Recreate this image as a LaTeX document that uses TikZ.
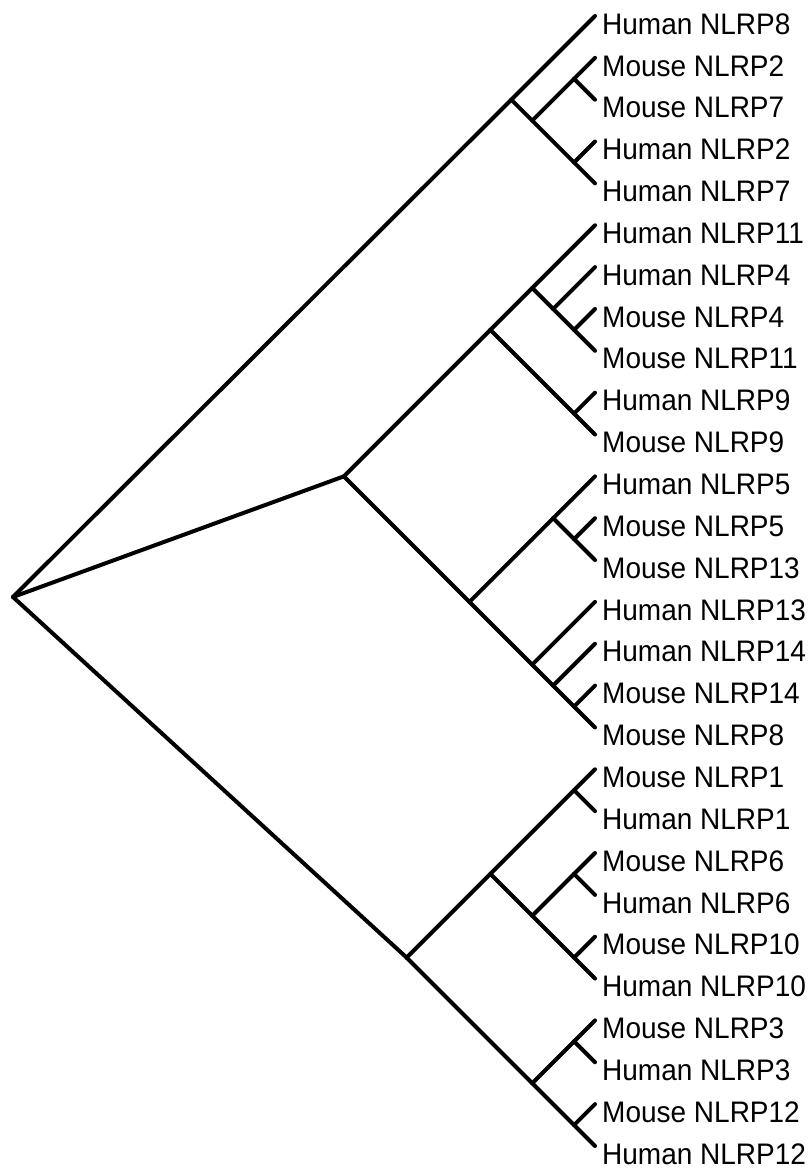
\documentclass[tikz,border=0pt]{standalone}
\usepackage{fontspec}
\setmainfont{Liberation Sans}
% internal node of a slanted cladogram spanning leaves #2..#3
\newcommand\clade[3]{\coordinate (#1) at ({595-20.925*(#3-#2)},{16+20.925*(#2+#3)});}
\begin{document}
\begin{tikzpicture}[x=1pt,y=-1pt,
  br/.style={line width=4pt,line cap=round,line join=round},
  leaf/.style={anchor=west,inner sep=0pt,yscale=1.06,font=\fontsize{28}{30}\selectfont}]
\useasboundingbox (0,0) rectangle (810,1169);
% leaf tips and labels
\foreach \i/\t in {0/Human NLRP8,1/Mouse NLRP2,2/Mouse NLRP7,3/Human NLRP2,4/Human NLRP7,
  5/Human NLRP11,6/Human NLRP4,7/Mouse NLRP4,8/Mouse NLRP11,9/Human NLRP9,10/Mouse NLRP9,
  11/Human NLRP5,12/Mouse NLRP5,13/Mouse NLRP13,14/Human NLRP13,15/Human NLRP14,16/Mouse NLRP14,
  17/Mouse NLRP8,18/Mouse NLRP1,19/Human NLRP1,20/Mouse NLRP6,21/Human NLRP6,22/Mouse NLRP10,
  23/Human NLRP10,24/Mouse NLRP3,25/Human NLRP3,26/Mouse NLRP12,27/Human NLRP12}{
  \coordinate (L\i) at (595,{16+41.85*\i});
  \node[leaf,transform shape] (T\i) at (602,{24+41.85*\i}) {\t};
}
% root and internal nodes
\coordinate (r) at (13,597);
\clade{A}{0}{4}\clade{A1}{1}{4}\clade{A2}{1}{2}\clade{A3}{3}{4}
\clade{B}{5}{17}\clade{B1}{5}{10}\clade{B2}{5}{8}\clade{B3}{6}{8}\clade{B4}{7}{8}
\clade{B5}{9}{10}\clade{B6}{11}{17}\clade{B7}{11}{13}\clade{B8}{12}{13}
\clade{B9}{14}{17}\clade{B10}{15}{17}\clade{B11}{16}{17}
\clade{C}{18}{27}\clade{C1}{18}{23}\clade{C2}{18}{19}\clade{C3}{20}{23}
\clade{C4}{20}{21}\clade{C5}{22}{23}\clade{C6}{24}{27}\clade{C7}{24}{25}\clade{C8}{26}{27}
% branches
\foreach \p/\c in {r/A,r/B,r/C,
  A/L0,A/A1,A1/A2,A1/A3,A2/L1,A2/L2,A3/L3,A3/L4,
  B/B1,B/B6,B1/B2,B1/B5,B2/L5,B2/B3,B3/L6,B3/B4,B4/L7,B4/L8,B5/L9,B5/L10,
  B6/B7,B6/B9,B7/L11,B7/B8,B8/L12,B8/L13,B9/L14,B9/B10,B10/L15,B10/B11,B11/L16,B11/L17,
  C/C1,C/C6,C1/C2,C1/C3,C2/L18,C2/L19,C3/C4,C3/C5,C4/L20,C4/L21,C5/L22,C5/L23,
  C6/C7,C6/C8,C7/L24,C7/L25,C8/L26,C8/L27}
  \draw[br] (\p) -- (\c);
\end{tikzpicture}
\end{document}
